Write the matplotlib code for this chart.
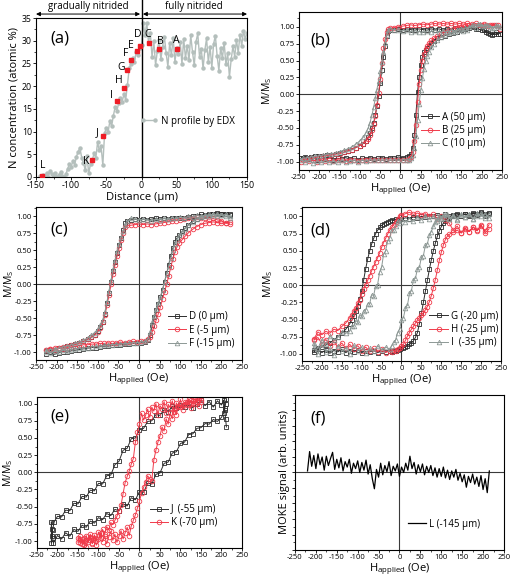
import matplotlib
matplotlib.use('Agg')
import matplotlib.pyplot as plt
from matplotlib.ticker import MultipleLocator, FormatStrFormatter, NullFormatter

plt.rcParams['font.family'] = ['Open Sans', 'DejaVu Sans']
plt.rcParams['mathtext.fontset'] = 'custom'
plt.rcParams['mathtext.rm'] = 'Open Sans'
plt.rcParams['mathtext.it'] = 'Open Sans:italic'
plt.rcParams['axes.unicode_minus'] = False
plt.rcParams['axes.linewidth'] = 0.8

# ---- (a) N profile by EDX ----
dist = [-145, -142.5, -140, -137.5, -135, -132.5, -130, -127.5, -125, -122.5,
        -120, -117.5, -115, -112.5, -110, -107.5, -105, -102.5, -100, -97.5,
        -95, -92.5, -90, -87.5, -85, -82.5, -80, -77.5, -75, -72.5,
        -70, -67.5, -65, -62.5, -60, -57.5, -55, -52.5, -50, -47.5,
        -45, -42.5, -40, -37.5, -35, -32.5, -30, -27.5, -25, -22.5,
        -20, -17.5, -15, -12.5, -10, -7.5, -5, -2.5, 0, 2.5,
        5, 7.5, 10, 12.5, 15, 17.5, 20, 22.5, 25, 27.5,
        30, 32.5, 35, 37.5, 40, 42.5, 45, 47.5, 50, 52.5,
        55, 57.5, 60, 62.5, 65, 67.5, 70, 72.5, 75, 77.5,
        80, 82.5, 85, 87.5, 90, 92.5, 95, 97.5, 100, 102.5,
        105, 107.5, 110, 112.5, 115, 117.5, 120, 122.5, 125, 127.5,
        130, 132.5, 135, 137.5, 140, 142.5, 145, 147.5, 150]
n_conc = [0.3, 0.0, 0.5, 0.2, 0.9, 0.1, 1.3, 0.6, 0.2, 0.8,
          0.0, 0.4, 1.1, 0.3, 0.0, 0.6, 1.8, 2.9, 2.2, 3.6,
          2.7, 4.5, 5.6, 6.4, 4.2, 3.1, 1.5, 4.6, 0.8, 2.9,
          3.7, 5.2, 4.1, 7.6, 5.9, 6.8, 2.6, 9.6, 10.8, 9.9,
          12.3, 11.2, 13.5, 15.4, 14.6, 16.2, 17.4, 16.6, 18.2, 17.0,
          20.3, 23.9, 24.8, 26.3, 25.4, 27.6, 26.9, 28.4, 29.1, 33.8,
          31.2, 34.0, 29.6, 31.8, 26.4, 29.9, 24.6, 27.8, 30.2, 25.9,
          28.7, 30.9, 27.3, 24.3, 29.4, 26.8, 30.6, 25.4, 28.3, 27.1,
          29.7, 24.9, 30.4, 26.2, 28.9, 25.7, 31.2, 27.5, 24.6, 29.8,
          31.6, 26.4, 28.2, 23.9, 27.9, 30.5, 25.3, 28.6, 24.1, 29.3,
          31.1, 26.7, 23.4, 28.5, 26.1, 29.6, 24.8, 27.3, 22.0, 25.9,
          28.8, 26.5, 30.1, 27.4, 31.3, 28.9, 32.2, 30.4, 31.7]
pt_names = ['A', 'B', 'C', 'D', 'E', 'F', 'G', 'H', 'I', 'J', 'K', 'L']
pt_x = [50, 25, 10, -2, -7, -15, -20, -25, -35, -55, -70, -141]
pt_y = [28.2, 28.2, 29.4, 28.8, 27.8, 25.8, 23.5, 19.7, 16.8, 9.0, 3.7, 0.3]

# ---- (b) A, B, C ----
hd_b = [245, 235, 225, 215, 205, 195, 185, 175, 165, 155,
        145, 135, 125, 115, 105, 95, 85, 75, 65, 55,
        45, 35, 25, 15, 5, -5, -15, -25, -30, -34,
        -38, -42, -46, -50, -54, -58, -62, -66, -70, -75,
        -80, -86, -92, -100, -110, -120, -130, -140, -150, -160,
        -170, -180, -190, -200, -210, -220, -230, -240]
ha_b = [-245, -235, -225, -215, -205, -195, -185, -175, -165, -155,
        -145, -135, -125, -115, -105, -95, -85, -75, -65, -55,
        -45, -35, -25, -15, -5, 5, 15, 22, 26, 30,
        34, 38, 42, 46, 50, 54, 58, 62, 66, 70,
        76, 82, 90, 100, 110, 120, 130, 140, 150, 160,
        170, 180, 190, 200, 210, 220, 230, 240]
a_desc = [0.90, 0.92, 0.88, 0.91, 0.96, 1.00, 0.97, 1.01, 0.98, 0.99,
          0.97, 0.98, 0.96, 0.97, 0.95, 0.97, 0.96, 0.97, 0.95, 0.96,
          0.97, 0.95, 0.96, 0.97, 0.96, 0.97, 0.96, 0.96, 0.94, 0.86,
          0.72, 0.55, 0.36, 0.17, -0.02, -0.18, -0.31, -0.42, -0.50, -0.58,
          -0.64, -0.69, -0.73, -0.76, -0.79, -0.82, -0.84, -0.86, -0.87, -0.88,
          -0.90, -0.90, -0.91, -0.92, -0.92, -0.93, -0.94, -0.94]
a_asc = [-0.95, -0.93, -0.96, -0.94, -0.97, -0.95, -0.96, -0.94, -0.97, -0.95,
         -0.96, -0.94, -0.96, -0.95, -0.97, -0.95, -0.96, -0.94, -0.96, -0.95,
         -0.94, -0.96, -0.94, -0.95, -0.93, -0.94, -0.93, -0.91, -0.88, -0.80,
         -0.60, -0.30, 0.03, 0.26, 0.44, 0.55, 0.62, 0.66, 0.69, 0.72,
         0.76, 0.79, 0.83, 0.85, 0.87, 0.89, 0.91, 0.93, 0.95, 0.97,
         0.99, 1.00, 0.97, 0.95, 0.92, 0.90, 0.89, 0.90]
b_desc = [0.97, 1.02, 1.03, 1.01, 1.04, 1.03, 1.05, 1.04, 1.05, 1.04,
          1.05, 1.04, 1.05, 1.04, 1.05, 1.04, 1.05, 1.04, 1.03, 1.04,
          1.03, 1.02, 1.03, 1.02, 1.01, 1.00, 0.99, 0.98, 0.97, 0.92,
          0.82, 0.68, 0.46, 0.22, 0.02, -0.16, -0.32, -0.44, -0.53, -0.61,
          -0.66, -0.70, -0.73, -0.76, -0.79, -0.82, -0.84, -0.86, -0.88, -0.89,
          -0.90, -0.91, -0.92, -0.93, -0.94, -0.95, -0.96, -0.97]
b_asc = [-1.00, -0.97, -0.99, -0.98, -1.00, -0.97, -0.99, -0.98, -0.99, -0.97,
         -0.98, -0.99, -0.97, -0.98, -0.99, -0.97, -0.98, -0.97, -0.98, -0.97,
         -0.98, -0.97, -0.98, -0.97, -0.98, -0.97, -0.97, -0.96, -0.93, -0.86,
         -0.70, -0.45, -0.12, 0.15, 0.36, 0.50, 0.60, 0.67, 0.72, 0.76,
         0.80, 0.83, 0.86, 0.89, 0.92, 0.95, 0.97, 0.99, 1.00, 1.01,
         1.02, 1.02, 1.03, 1.02, 1.03, 1.02, 1.03, 1.02]
c_desc = [1.00, 1.02, 0.98, 1.03, 1.01, 1.04, 0.99, 1.02, 0.96, 0.94,
          0.96, 0.93, 0.95, 0.93, 0.94, 0.92, 0.95, 0.93, 0.94, 0.92,
          0.93, 0.94, 0.93, 0.95, 0.94, 0.95, 0.96, 0.97, 0.95, 0.88,
          0.76, 0.62, 0.48, 0.34, 0.20, 0.07, -0.06, -0.19, -0.30, -0.42,
          -0.51, -0.58, -0.64, -0.69, -0.74, -0.78, -0.81, -0.83, -0.85, -0.87,
          -0.88, -0.89, -0.90, -0.91, -0.92, -0.93, -0.94, -0.95]
c_asc = [-0.97, -1.00, -0.98, -1.02, -0.99, -1.01, -0.98, -1.00, -0.99, -1.01,
         -0.98, -1.00, -0.99, -0.98, -1.00, -0.98, -0.99, -0.97, -0.98, -0.97,
         -0.98, -0.97, -0.98, -0.97, -0.98, -0.97, -0.97, -0.97, -0.95, -0.90,
         -0.80, -0.62, -0.38, -0.14, 0.06, 0.24, 0.38, 0.49, 0.57, 0.63,
         0.70, 0.75, 0.80, 0.85, 0.88, 0.91, 0.93, 0.95, 0.97, 0.98,
         1.00, 1.02, 1.04, 1.01, 1.03, 1.00, 0.99, 1.01]

# ---- (c) D, E, F ----
hd_c = [220, 210, 200, 190, 180, 170, 160, 150, 140, 130,
        120, 110, 100, 90, 80, 70, 60, 50, 40, 30,
        20, 10, 0, -10, -20, -28, -33, -38, -43, -48,
        -53, -58, -63, -68, -73, -78, -83, -88, -94, -100,
        -108, -116, -125, -135, -145, -155, -165, -175, -185, -195,
        -205, -215, -225]
ha_c = [-225, -215, -205, -195, -185, -175, -165, -155, -145, -135,
        -125, -115, -105, -95, -85, -75, -65, -55, -45, -35,
        -25, -15, -5, 5, 15, 22, 27, 32, 37, 42,
        47, 52, 57, 62, 67, 72, 77, 82, 87, 92,
        98, 105, 112, 120, 130, 140, 150, 160, 170, 180,
        190, 200, 210, 220]
d_desc = [1.02, 1.04, 1.03, 1.05, 1.03, 1.04, 1.02, 1.03, 1.01, 1.00,
          0.99, 0.98, 0.97, 0.98, 0.97, 0.96, 0.97, 0.96, 0.97, 0.96,
          0.95, 0.96, 0.95, 0.96, 0.95, 0.94, 0.90, 0.80, 0.69, 0.58,
          0.46, 0.33, 0.19, 0.04, -0.12, -0.28, -0.44, -0.55, -0.63, -0.69,
          -0.74, -0.78, -0.81, -0.84, -0.86, -0.88, -0.90, -0.91, -0.93, -0.94,
          -0.96, -0.97, -0.98]
d_asc = [-1.02, -1.00, -1.03, -1.01, -0.99, -1.00, -0.98, -0.97, -0.96, -0.95,
         -0.94, -0.93, -0.93, -0.92, -0.91, -0.91, -0.90, -0.89, -0.89, -0.88,
         -0.88, -0.87, -0.87, -0.86, -0.85, -0.82, -0.74, -0.60, -0.48, -0.38,
         -0.29, -0.19, -0.08, 0.04, 0.16, 0.29, 0.42, 0.53, 0.62, 0.68,
         0.73, 0.78, 0.83, 0.88, 0.93, 0.96, 0.99, 1.01, 1.02, 1.03,
         1.04, 1.03, 1.04, 1.03]
e_desc = [0.92, 0.90, 0.94, 0.95, 0.97, 0.96, 0.98, 0.97, 0.99, 0.98,
          0.97, 0.96, 0.95, 0.94, 0.93, 0.92, 0.91, 0.90, 0.89, 0.88,
          0.89, 0.88, 0.89, 0.88, 0.87, 0.87, 0.84, 0.76, 0.65, 0.54,
          0.42, 0.29, 0.15, 0.00, -0.16, -0.31, -0.45, -0.56, -0.64, -0.70,
          -0.75, -0.78, -0.81, -0.84, -0.86, -0.88, -0.89, -0.91, -0.92, -0.93,
          -0.94, -0.95, -0.96]
e_asc = [-0.97, -0.95, -0.96, -0.94, -0.95, -0.93, -0.92, -0.91, -0.90, -0.89,
         -0.89, -0.88, -0.88, -0.87, -0.87, -0.86, -0.87, -0.86, -0.85, -0.86,
         -0.85, -0.84, -0.85, -0.84, -0.83, -0.81, -0.77, -0.70, -0.61, -0.52,
         -0.43, -0.33, -0.22, -0.11, 0.00, 0.12, 0.25, 0.37, 0.47, 0.55,
         0.61, 0.66, 0.71, 0.76, 0.81, 0.85, 0.88, 0.90, 0.91, 0.92,
         0.91, 0.90, 0.91, 0.89]
f_desc = [0.98, 1.00, 1.02, 1.00, 1.03, 1.01, 1.02, 1.00, 1.02, 0.99,
          1.00, 0.98, 0.99, 0.97, 0.98, 0.96, 0.97, 0.95, 0.96, 0.94,
          0.95, 0.96, 0.95, 0.96, 0.97, 0.93, 0.87, 0.79, 0.70, 0.60,
          0.49, 0.36, 0.22, 0.06, -0.10, -0.26, -0.41, -0.52, -0.60, -0.66,
          -0.71, -0.75, -0.79, -0.82, -0.85, -0.87, -0.89, -0.91, -0.92, -0.94,
          -0.95, -0.96, -0.97]
f_asc = [-0.99, -1.01, -0.98, -1.00, -0.97, -0.98, -0.96, -0.95, -0.94, -0.94,
         -0.93, -0.92, -0.91, -0.91, -0.90, -0.89, -0.89, -0.88, -0.88, -0.87,
         -0.87, -0.86, -0.86, -0.85, -0.84, -0.80, -0.70, -0.56, -0.46, -0.37,
         -0.28, -0.18, -0.08, 0.03, 0.15, 0.27, 0.39, 0.50, 0.59, 0.66,
         0.72, 0.77, 0.82, 0.87, 0.92, 0.96, 0.99, 1.01, 1.03, 1.02,
         1.04, 1.02, 1.03, 1.01]

# ---- (d) G, H, I ----
hd_d = [220, 210, 200, 190, 180, 170, 160, 150, 140, 130,
        120, 110, 100, 90, 80, 70, 60, 50, 40, 30,
        20, 10, 0, -5, -10, -15, -20, -25, -30, -35,
        -40, -45, -50, -55, -60, -65, -70, -75, -80, -85,
        -90, -95, -100, -105, -110, -115, -120, -125, -130, -140,
        -150, -160, -170, -180, -190, -200, -210, -220]
ha_d = [-220, -210, -200, -190, -180, -170, -160, -150, -140, -130,
        -120, -110, -100, -90, -80, -70, -60, -50, -40, -30,
        -25, -20, -15, -10, -5, 0, 5, 10, 15, 20,
        25, 30, 35, 40, 45, 50, 55, 60, 65, 70,
        75, 80, 85, 90, 95, 100, 105, 110, 115, 120,
        130, 140, 150, 160, 170, 180, 190, 200, 210, 220]
g_desc = [1.04, 1.01, 1.05, 1.02, 1.04, 1.00, 1.03, 1.01, 1.04, 1.02,
          1.00, 1.03, 1.01, 1.02, 1.00, 1.01, 0.99, 1.00, 0.98, 0.99,
          0.97, 0.98, 0.96, 0.97, 0.95, 0.96, 0.94, 0.95, 0.93, 0.92,
          0.91, 0.89, 0.87, 0.84, 0.80, 0.75, 0.68, 0.60, 0.50, 0.38,
          0.24, 0.08, -0.08, -0.20, -0.30, -0.38, -0.45, -0.51, -0.56, -0.64,
          -0.70, -0.75, -0.80, -0.84, -0.87, -0.90, -0.92, -0.94]
g_asc = [-0.97, -0.93, -0.98, -0.94, -0.99, -0.95, -0.97, -0.93, -0.98, -0.95,
         -0.97, -0.94, -0.98, -0.96, -0.97, -0.95, -0.98, -0.96, -0.97, -0.96,
         -0.97, -0.95, -0.96, -0.94, -0.93, -0.92, -0.91, -0.90, -0.88, -0.86,
         -0.84, -0.81, -0.76, -0.69, -0.56, -0.41, -0.25, -0.09, 0.07, 0.23,
         0.37, 0.50, 0.61, 0.71, 0.79, 0.85, 0.90, 0.94, 0.96, 0.98,
         1.00, 1.02, 1.01, 1.04, 1.02, 1.05, 1.03, 1.06, 1.04, 1.05]
h_desc = [0.82, 0.76, 0.88, 0.79, 0.85, 0.78, 0.83, 0.76, 0.86, 0.80,
          0.90, 0.95, 1.00, 0.97, 1.03, 1.00, 1.04, 1.02, 1.05, 1.03,
          1.06, 1.04, 1.02, 1.01, 0.96, 0.92, 0.88, 0.84, 0.80, 0.74,
          0.68, 0.62, 0.55, 0.47, 0.40, 0.34, 0.27, 0.21, 0.14, 0.07,
          0.00, -0.06, -0.13, -0.21, -0.26, -0.33, -0.37, -0.43, -0.47, -0.55,
          -0.60, -0.66, -0.64, -0.70, -0.67, -0.72, -0.68, -0.78]
h_asc = [-0.80, -0.76, -0.85, -0.79, -0.88, -0.82, -0.90, -0.84, -0.92, -0.86,
         -0.93, -0.88, -0.95, -0.90, -0.96, -0.92, -0.97, -0.93, -0.98, -0.95,
         -0.97, -0.94, -0.96, -0.93, -0.92, -0.89, -0.86, -0.80, -0.74, -0.69,
         -0.64, -0.60, -0.55, -0.51, -0.47, -0.44, -0.40, -0.36, -0.31, -0.24,
         -0.15, -0.04, 0.08, 0.22, 0.36, 0.48, 0.58, 0.66, 0.71, 0.74,
         0.77, 0.80, 0.76, 0.82, 0.78, 0.84, 0.80, 0.86, 0.79, 0.88]
i_desc = [1.03, 0.98, 1.05, 1.00, 0.96, 1.04, 0.99, 1.02, 0.95, 1.01,
          0.97, 1.03, 0.98, 0.94, 1.00, 0.96, 1.01, 0.95, 0.99, 0.93,
          0.97, 0.92, 0.96, 0.90, 0.94, 0.86, 0.80, 0.81, 0.68, 0.64,
          0.50, 0.45, 0.26, 0.19, 0.01, -0.01, -0.15, -0.14, -0.27, -0.27,
          -0.36, -0.37, -0.45, -0.44, -0.53, -0.52, -0.60, -0.59, -0.67, -0.70,
          -0.68, -0.76, -0.80, -0.74, -0.86, -0.79, -0.92, -0.84]
i_asc = [-0.90, -1.00, -0.86, -0.97, -0.92, -1.02, -0.88, -0.96, -0.91, -1.00,
         -0.87, -0.95, -0.90, -0.99, -0.92, -0.96, -0.88, -0.94, -0.90, -0.93,
         -0.88, -0.83, -0.80, -0.69, -0.64, -0.51, -0.47, -0.33, -0.29, -0.12,
         -0.08, 0.08, 0.10, 0.24, 0.26, 0.41, 0.43, 0.58, 0.60, 0.73,
         0.78, 0.86, 0.92, 0.97, 1.00, 0.96, 1.02, 0.98, 1.03, 0.97,
         1.02, 0.96, 1.04, 0.99, 1.03, 0.97, 1.05, 1.00, 1.04, 0.98]

# ---- (e) J, K ----
hd_j = [212, 210, 208, 205, 200, 190, 180, 170, 160, 150,
        140, 130, 120, 110, 100, 90, 80, 70, 60, 50,
        40, 30, 20, 10, 0, -10, -20, -30, -40, -50,
        -60, -70, -80, -90, -100, -110, -120, -130, -140, -150,
        -160, -170, -180, -190, -200, -208, -212, -214, -215]
j_desc = [0.66, 0.78, 0.90, 1.05, 0.98, 1.04, 0.95, 1.03, 0.97, 1.05,
          0.99, 0.94, 1.01, 0.95, 0.98, 0.93, 0.96, 0.88, 0.91, 0.83,
          0.84, 0.75, 0.74, 0.64, 0.62, 0.50, 0.49, 0.35, 0.32, 0.16,
          0.11, -0.04, -0.05, -0.17, -0.16, -0.27, -0.26, -0.36, -0.35, -0.46,
          -0.45, -0.56, -0.55, -0.65, -0.64, -0.72, -0.84, -0.93, -1.03]
ha_j = [-215, -214, -212, -210, -200, -190, -180, -170, -160, -150,
        -140, -130, -120, -110, -100, -90, -80, -70, -60, -50,
        -40, -30, -20, -10, 0, 10, 20, 30, 40, 50,
        60, 70, 80, 90, 100, 110, 120, 130, 140, 150,
        160, 170, 180, 190, 200, 205, 208, 210, 212]
j_asc = [-0.72, -0.83, -0.95, -1.03, -0.92, -0.97, -0.88, -0.93, -0.83, -0.86,
         -0.77, -0.80, -0.71, -0.74, -0.66, -0.69, -0.60, -0.63, -0.54, -0.56,
         -0.46, -0.49, -0.37, -0.40, -0.28, -0.29, -0.16, -0.17, -0.03, -0.01,
         0.13, 0.15, 0.28, 0.30, 0.42, 0.44, 0.55, 0.56, 0.64, 0.65,
         0.71, 0.70, 0.77, 0.74, 0.80, 0.86, 0.93, 1.00, 1.06]
hd_k = [150, 145, 140, 135, 130, 125, 120, 115, 110, 105,
        100, 95, 90, 85, 80, 75, 70, 65, 60, 55,
        50, 45, 40, 35, 30, 25, 20, 15, 10, 5,
        0, -5, -10, -15, -20, -25, -30, -35, -40, -45,
        -50, -55, -60, -65, -70, -75, -80, -85, -90, -95,
        -100, -105, -110, -115, -120, -125, -130, -135, -140, -145,
        -150]
k_desc = [1.05, 0.96, 1.08, 0.99, 1.04, 0.93, 1.07, 0.98, 1.02, 0.91,
          1.06, 0.95, 1.01, 0.88, 1.04, 0.94, 0.99, 0.86, 1.03, 0.92,
          0.97, 0.84, 1.00, 0.89, 0.95, 0.80, 0.92, 0.83, 0.76, 0.86,
          0.70, 0.58, 0.44, 0.20, 0.12, 0.02, -0.06, -0.15, -0.31, -0.48,
          -0.56, -0.64, -0.70, -0.76, -0.73, -0.84, -0.79, -0.90, -0.83, -0.95,
          -0.87, -1.00, -0.91, -1.04, -0.94, -1.02, -0.92, -1.06, -0.97, -1.03,
          -0.95]
ha_k = [-150, -145, -140, -135, -130, -125, -120, -115, -110, -105,
        -100, -95, -90, -85, -80, -75, -70, -65, -60, -55,
        -50, -45, -40, -35, -30, -25, -20, -15, -10, -5,
        0, 5, 10, 15, 20, 25, 30, 35, 40, 45,
        50, 55, 60, 65, 70, 75, 80, 85, 90, 95,
        100, 105, 110, 115, 120, 125, 130, 135, 140, 145,
        150]
k_asc = [-1.02, -0.93, -1.05, -0.96, -1.08, -0.99, -0.90, -1.03, -0.95, -1.06,
         -0.97, -0.88, -1.01, -0.92, -1.04, -0.94, -0.86, -0.99, -0.90, -1.02,
         -0.93, -0.85, -0.97, -0.88, -0.80, -0.92, -0.78, -0.70, -0.62, -0.52,
         -0.42, -0.30, -0.22, -0.14, -0.05, -0.10, -0.12, 0.18, 0.32, 0.44,
         0.53, 0.66, 0.60, 0.78, 0.70, 0.86, 0.78, 0.92, 0.84, 0.97,
         0.95, 0.98, 1.00, 1.03, 0.99, 1.05, 1.01, 1.07, 1.02, 1.08,
         1.03]

# ---- (f) L ----
h_l = [-220, -215, -210, -205, -200, -195, -190, -185, -180, -175,
       -170, -165, -160, -155, -150, -145, -140, -135, -130, -125,
       -120, -115, -110, -105, -100, -95, -90, -85, -80, -75,
       -70, -65, -60, -55, -50, -45, -40, -35, -30, -25,
       -20, -15, -10, -5, 0, 5, 10, 15, 20, 25,
       30, 35, 40, 45, 50, 55, 60, 65, 70, 75,
       80, 85, 90, 95, 100, 105, 110, 115, 120, 125,
       130, 135, 140, 145, 150, 155, 160, 165, 170, 175,
       180, 185, 190, 195, 200, 205, 210, 215]
l_sig = [0.02, 0.27, 0.08, 0.22, 0.05, 0.24, 0.10, 0.20, 0.03, 0.21,
         0.09, 0.18, 0.26, 0.04, 0.17, 0.06, 0.19, 0.02, 0.14, 0.07,
         0.17, -0.01, 0.12, 0.05, 0.15, 0.00, 0.13, 0.03, 0.16, -0.02,
         0.10, -0.08, -0.21, 0.04, -0.06, 0.12, -0.03, 0.09, 0.01, 0.14,
         -0.04, 0.08, 0.02, 0.11, -0.05, 0.07, 0.00, 0.12, 0.03, 0.21,
         0.05, 0.13, -0.02, 0.10, 0.01, 0.11, -0.03, 0.08, 0.00, 0.09,
         -0.04, 0.06, -0.06, 0.05, -0.05, 0.07, -0.07, 0.03, -0.09, 0.02,
         -0.06, 0.04, -0.10, -0.01, -0.12, -0.03, -0.19, -0.05, -0.13, -0.02,
         -0.15, -0.06, -0.18, -0.04, -0.22, -0.08, -0.26, 0.02]

DARK = '#2c2c2c'
RED = '#f03a4a'
GRAY = '#8d9895'
EDX = '#b4bfbc'
ZERO = '#3a3a3a'

fig = plt.figure(figsize=(5.13, 5.83), dpi=100)


def style_ticks(ax, size=5.5):
    ax.tick_params(which='major', labelsize=size, length=2, width=0.6, pad=1)
    ax.tick_params(which='minor', length=1.2, width=0.5)


def loop_axes(rect, ylim, letter, lpos, ylab_x):
    ax = fig.add_axes(rect)
    ax.set_xlim(-250, 250)
    ax.set_ylim(*ylim)
    ax.axhline(0, color=ZERO, lw=0.8, zorder=0)
    ax.axvline(0, color=ZERO, lw=0.8, zorder=0)
    ax.xaxis.set_major_locator(MultipleLocator(50))
    ax.xaxis.set_minor_locator(MultipleLocator(25))
    ax.yaxis.set_major_locator(MultipleLocator(0.25))
    ax.yaxis.set_minor_locator(MultipleLocator(0.125))
    ax.yaxis.set_major_formatter(FormatStrFormatter('%.2f'))
    style_ticks(ax)
    ax.set_xlabel('H$_{\\mathrm{applied}}$ (Oe)', fontsize=8, labelpad=0)
    ax.set_ylabel('M/M$_{\\mathrm{S}}$', fontsize=7.5)
    # x of the label box's right edge, in axes units
    ax.yaxis.set_label_coords(ylab_x, 0.5)
    ax.text(lpos[0], lpos[1], letter, transform=ax.transAxes,
            fontsize=12, va='center', ha='left')
    return ax


def loop(ax, hd, md, ha, ma, label, marker, color, ms=3.3):
    ax.plot(hd + ha, md + ma, color=color, lw=0.7, marker=marker, ms=ms,
            mfc='none', mec=color, mew=0.6, label=label)


def loop_legend(ax, anchor):
    ax.legend(loc='lower left', bbox_to_anchor=anchor, frameon=False,
              fontsize=7, handlelength=1.9, handletextpad=0.3,
              labelspacing=0.25, borderpad=0, borderaxespad=0, numpoints=1)


# (a)
ax = fig.add_axes([0.0702, 0.6964, 0.4113, 0.2727])
ax.plot(dist, n_conc, color=EDX, lw=1.0, marker='o', ms=2.2, mfc=EDX, mec=EDX,
        label='N profile by EDX')
ax.plot(pt_x, pt_y, 's', color='#ee1c25', ms=2.6, zorder=5)
offsets = {'A': (0, 1.8), 'B': (1.3, 1.7), 'C': (-0.8, 1.9), 'D': (-3.5, 2.5),
           'E': (-8.4, 1.2), 'F': (-7, 1.3), 'G': (-8.7, 0.7), 'H': (-7.5, 1.5),
           'I': (-8.4, 1.1), 'J': (-8, 0.7), 'K': (-9, -0.3), 'L': (0.5, 2.3)}
for name, x, y in zip(pt_names, pt_x, pt_y):
    dx, dy = offsets[name]
    ax.text(x + dx, y + dy, name, fontsize=7.5, ha='center', va='center')
ax.set_xlim(-150, 150)
ax.set_ylim(0, 35)
ax.xaxis.set_major_locator(MultipleLocator(50))
ax.xaxis.set_minor_locator(MultipleLocator(25))
ax.yaxis.set_major_locator(MultipleLocator(5))
ax.yaxis.set_minor_locator(MultipleLocator(2.5))
style_ticks(ax, 6.3)
ax.set_xlabel('Distance (\u00b5m)', fontsize=8, labelpad=1)
ax.set_ylabel('N concentration (atomic %)', fontsize=8)
ax.yaxis.set_label_coords(-0.078, 0.5)
ax.axvline(0, ymin=0, ymax=1.113, color='black', lw=1.0, clip_on=False)
tr = ax.get_xaxis_transform()
arrow = dict(arrowstyle='<|-|>', color='black', lw=0.7, mutation_scale=6,
             shrinkA=0, shrinkB=0)
ax.annotate('', xy=(-150, 1.025), xytext=(-2, 1.025), xycoords=tr,
            textcoords=tr, arrowprops=arrow, annotation_clip=False)
ax.annotate('', xy=(2, 1.025), xytext=(150, 1.025), xycoords=tr,
            textcoords=tr, arrowprops=arrow, annotation_clip=False)
ax.text(-75, 1.075, 'gradually nitrided', transform=tr, ha='center',
        va='center', fontsize=7)
ax.text(75, 1.075, 'fully nitrided', transform=tr, ha='center',
        va='center', fontsize=7)
ax.text(0.066, 0.87, '(a)', transform=ax.transAxes, fontsize=12, va='center')
ax.legend(loc='center left', bbox_to_anchor=(0.47, 0.35), frameon=False,
          fontsize=7, handlelength=1.8, handletextpad=0.4, numpoints=2,
          borderpad=0)

# (b)
ax = loop_axes([0.5828, 0.7084, 0.3957, 0.2710], (-1.123, 1.22), '(b)',
               (0.054, 0.82), -0.121)
loop(ax, hd_b, a_desc, ha_b, a_asc, 'A (50 \u00b5m)', 's', DARK, 3.0)
loop(ax, hd_b, b_desc, ha_b, b_asc, 'B (25 \u00b5m)', 'o', RED)
loop(ax, hd_b, c_desc, ha_b, c_asc, 'C (10 \u00b5m)', '^', GRAY)
loop_legend(ax, (0.60, 0.13))

# (c)
ax = loop_axes([0.0702, 0.3825, 0.4016, 0.2624], (-1.114, 1.139), '(c)',
               (0.068, 0.85), -0.0995)
loop(ax, hd_c, d_desc, ha_c, d_asc, 'D (0 \u00b5m)', 's', DARK, 3.0)
loop(ax, hd_c, e_desc, ha_c, e_asc, 'E (-5 \u00b5m)', 'o', RED)
loop(ax, hd_c, f_desc, ha_c, f_asc, 'F (-15 \u00b5m)', '^', GRAY)
loop_legend(ax, (0.64, 0.07))

# (d)
ax = loop_axes([0.5887, 0.3813, 0.3879, 0.2636], (-1.098, 1.137), '(d)',
               (0.04, 0.85), -0.138)
loop(ax, hd_d, g_desc, ha_d, g_asc, 'G (-20 \u00b5m)', 's', DARK, 3.0)
loop(ax, hd_d, h_desc, ha_d, h_asc, 'H (-25 \u00b5m)', 'o', RED)
loop(ax, hd_d, i_desc, ha_d, i_asc, 'I  (-35 \u00b5m)', '^', GRAY)
loop_legend(ax, (0.64, 0.08))

# (e)
ax = loop_axes([0.0721, 0.0600, 0.3996, 0.2590], (-1.102, 1.096), '(e)',
               (0.063, 0.87), -0.105)
loop(ax, hd_j, j_desc, ha_j, j_asc, 'J  (-55 \u00b5m)', 's', DARK, 3.0)
loop(ax, hd_k, k_desc, ha_k, k_asc, 'K (-70 \u00b5m)', 'o', RED)
loop_legend(ax, (0.55, 0.13))

# (f)
ax = fig.add_axes([0.5750, 0.0566, 0.4074, 0.2659])
ax.plot(h_l, l_sig, color='black', lw=0.9, label='L (-145 \u00b5m)')
ax.set_xlim(-250, 250)
ax.set_ylim(-1, 1)
ax.axhline(0, color=ZERO, lw=0.8, zorder=0)
ax.axvline(0, color=ZERO, lw=0.8, zorder=0)
ax.xaxis.set_major_locator(MultipleLocator(50))
ax.xaxis.set_minor_locator(MultipleLocator(25))
ax.yaxis.set_major_locator(MultipleLocator(0.2))
ax.yaxis.set_minor_locator(MultipleLocator(0.1))
ax.yaxis.set_major_formatter(NullFormatter())
style_ticks(ax)
ax.set_xlabel('H$_{\\mathrm{applied}}$ (Oe)', fontsize=8, labelpad=0)
ax.set_ylabel('MOKE signal (arb. units)', fontsize=8)
ax.yaxis.set_label_coords(-0.022, 0.5)
ax.text(0.072, 0.85, '(f)', transform=ax.transAxes, fontsize=12, va='center')
ax.legend(loc='lower left', bbox_to_anchor=(0.54, 0.13), frameon=False,
          fontsize=7, handlelength=1.9, handletextpad=0.3, borderpad=0,
          borderaxespad=0)

fig.savefig('out.png', dpi=100)
